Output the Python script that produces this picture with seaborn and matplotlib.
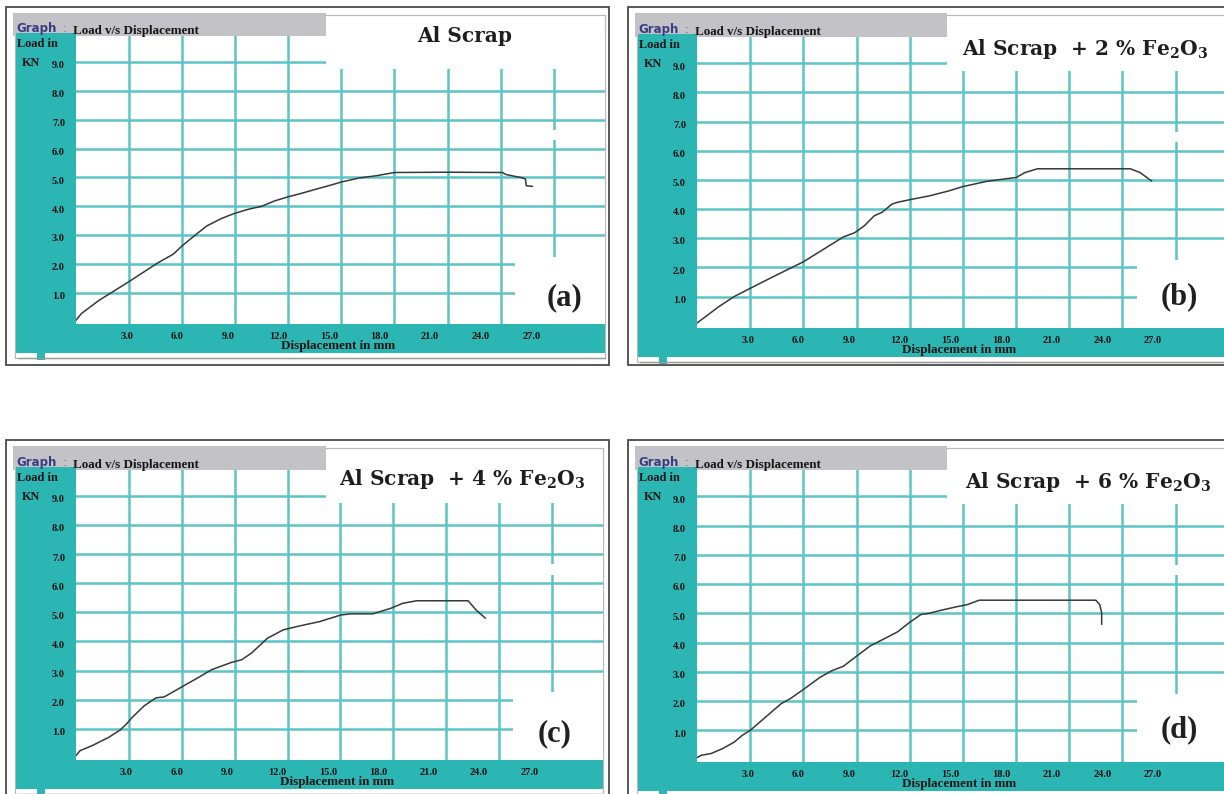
import matplotlib
matplotlib.use("Agg")
import matplotlib.pyplot as plt
from matplotlib.patches import Rectangle
from matplotlib.transforms import ScaledTranslation
import seaborn as sns

# ---------------------------------------------------------------
# Load vs displacement records (displacement in mm, load in kN)
# ---------------------------------------------------------------
disp_a = [0.0, 0.3, 1.3, 3.0, 3.8, 4.6, 5.5, 6.0, 6.8, 7.4, 8.2, 8.9, 9.7, 10.5,
          11.2, 12.0, 12.7, 13.5, 14.5, 15.0, 16.0, 17.0, 18.0, 21.0, 24.1, 24.3,
          24.7, 25.2, 25.4, 25.45, 25.8]
load_a = [0.05, 0.28, 0.74, 1.39, 1.71, 2.03, 2.34, 2.63, 3.03, 3.32, 3.57, 3.74,
          3.89, 4.00, 4.18, 4.33, 4.44, 4.58, 4.75, 4.84, 4.98, 5.06, 5.17, 5.18,
          5.17, 5.10, 5.05, 4.99, 4.95, 4.71, 4.69]

disp_b = [0.0, 1.25, 2.1, 3.0, 4.3, 6.0, 6.9, 7.8, 8.25, 8.9, 9.45, 10.0, 10.45,
          11.0, 11.3, 12.0, 13.1, 14.2, 15.0, 16.35, 17.45, 18.0, 18.5, 19.2,
          24.45, 25.0, 25.65]
load_b = [0.09, 0.66, 1.00, 1.28, 1.68, 2.19, 2.53, 2.87, 3.04, 3.19, 3.43, 3.77,
          3.89, 4.17, 4.23, 4.32, 4.45, 4.62, 4.77, 4.95, 5.04, 5.08, 5.25, 5.38,
          5.38, 5.25, 4.96]

disp_c = [0.0, 0.23, 0.9, 1.83, 2.5, 2.85, 3.18, 3.86, 4.54, 5.0, 5.9, 7.0, 7.7,
          8.83, 9.4, 9.96, 10.86, 11.76, 12.66, 13.8, 15.03, 15.6, 16.84, 17.86,
          18.53, 19.32, 22.25, 22.7, 23.23]
load_c = [0.07, 0.24, 0.41, 0.69, 0.95, 1.15, 1.38, 1.78, 2.06, 2.09, 2.40, 2.78,
          3.03, 3.28, 3.37, 3.60, 4.11, 4.40, 4.53, 4.68, 4.91, 4.95, 4.95, 5.14,
          5.31, 5.40, 5.40, 5.08, 4.80]

disp_d = [0.0, 0.24, 0.8, 1.45, 2.1, 2.55, 3.0, 3.86, 4.74, 5.3, 6.05, 6.93, 7.6,
          8.25, 8.9, 9.78, 10.88, 11.32, 11.97, 12.63, 13.07, 13.73, 14.6, 15.26,
          15.92, 22.5, 22.72, 22.83, 22.83]
load_d = [0.07, 0.15, 0.21, 0.38, 0.60, 0.83, 1.00, 1.45, 1.91, 2.10, 2.42, 2.81,
          3.04, 3.19, 3.49, 3.89, 4.23, 4.37, 4.68, 4.96, 5.00, 5.10, 5.22, 5.30,
          5.45, 5.45, 5.30, 5.02, 4.62]

panel_titles = ["Al Scrap",
                r"Al Scrap  + 2 % Fe$_\mathbf{2}$O$_\mathbf{3}$",
                r"Al Scrap  + 4 % Fe$_\mathbf{2}$O$_\mathbf{3}$",
                r"Al Scrap  + 6 % Fe$_\mathbf{2}$O$_\mathbf{3}$"]
panel_tags = ["(a)", "(b)", "(c)", "(d)"]

x_grid = [3.0, 6.0, 9.0, 12.0, 15.0, 18.0, 21.0, 24.0, 27.0]
x_tick_labels = ["3.0", "6.0", "9.0", "12.0", "15.0", "18.0", "21.0", "24.0", "27.0"]
y_grid = [1.0, 2.0, 3.0, 4.0, 5.0, 6.0, 7.0, 8.0, 9.0]
y_tick_labels = ["1.0", "2.0", "3.0", "4.0", "5.0", "6.0", "7.0", "8.0", "9.0"]

window_caption = "Load v/s Displacement"
x_caption = "Displacement in mm"
y_caption = ["Load in", "KN"]

# ---------------------------------------------------------------
# Styling
# ---------------------------------------------------------------
sns.set_theme(style="white")
plt.rcParams["mathtext.fontset"] = "dejavuserif"

W, H = 1224, 794
TEAL = "#2bb5b3"
GRID = "#5cc4c4"
BAR_GREY = "#c3c3c7"
CURVE = "#383838"
SERIF = "Liberation Serif"

# screen layout of each instrument window (pixels)
panels = [
    dict(frame=(6, 7), box=(76, 36, 605, 324), title=(465, 42, "center"), tag=(564, 298)),
    dict(frame=(628, 7), box=(697, 37, 1227, 328), title=(1208, 55, "right"), tag=(1179, 297)),
    dict(frame=(6, 440), box=(76, 470, 603, 760), title=(585, 485, "right"), tag=(555, 734)),
    dict(frame=(628, 440), box=(697, 470, 1227, 762), title=(1211, 488, "right"), tag=(1179, 730)),
]
curves = [(disp_a, load_a), (disp_b, load_b), (disp_c, load_c), (disp_d, load_d)]

XMAX, YMIN, YMAX = 29.9, -0.08, 9.9
LABEL_STEP = 0.953   # the software prints its displacement labels slightly compressed

fig = plt.figure(figsize=(W / 100, H / 100), dpi=100)
fig.patch.set_facecolor("white")

bg = fig.add_axes([0, 0, 1, 1], zorder=0)
bg.set_xlim(0, W)
bg.set_ylim(H, 0)
bg.axis("off")


def px_rect(x0, y0, x1, y1, **kw):
    bg.add_patch(Rectangle((x0, y0), x1 - x0, y1 - y0, **kw))


def ftext(x, y, s, **kw):
    fig.text(x / W, 1 - y / H, s, zorder=5, **kw)


for p, (xs, ys), title, tag in zip(panels, curves, panel_titles, panel_tags):
    fx, fy = p["frame"]
    l, t, r, b = p["box"]

    # window chrome
    px_rect(fx, fy, fx + 603, fy + 358, facecolor="white", edgecolor="#4a4a4a", lw=1.3)
    px_rect(fx + 9, fy + 8, r, b + 34, facecolor="none", edgecolor="#b8b8b8", lw=0.9)
    px_rect(fx + 7, fy + 6, l + 250, t, facecolor=BAR_GREY, edgecolor="none")
    px_rect(fx + 10, t - 3, l, b + 29, facecolor=TEAL, edgecolor="none")
    px_rect(fx + 10, b, r, b + 29, facecolor=TEAL, edgecolor="none")
    px_rect(fx + 31, b + 29, fx + 39, b + 36, facecolor=TEAL, edgecolor="none")
    bg.plot([fx + 12, r], [b + 34, b + 34], color="#9a9a9a", lw=1.0)

    # plotting area
    ax = fig.add_axes([l / W, 1 - b / H, (r - l) / W, (b - t) / H], zorder=1)
    ax.set_facecolor("white")
    sns.lineplot(x=xs, y=ys, ax=ax, sort=False, estimator=None,
                 color=CURVE, linewidth=1.1, zorder=3)
    ax.set_xlim(0, XMAX)
    ax.set_ylim(YMIN, YMAX)
    ax.set_xlabel("")
    ax.set_ylabel("")

    ax.set_xticks([LABEL_STEP * v for v in x_grid], labels=x_tick_labels)
    ax.set_xticks(x_grid, minor=True)
    ax.set_yticks(y_grid, labels=y_tick_labels)
    ax.grid(False)
    ax.grid(True, which="minor", axis="x", color=GRID, lw=1.8)
    ax.grid(True, which="major", axis="y", color=GRID, lw=1.8)
    ax.set_axisbelow(True)
    ax.tick_params(axis="x", which="both", length=0, pad=5.5, labelsize=7.5, labelcolor="#111111")
    ax.tick_params(axis="y", which="major", direction="in", length=2.5, width=1,
                   color="#444466", pad=8.0, labelsize=7.5, labelcolor="#111111")
    for lab in ax.get_xticklabels() + ax.get_yticklabels():
        lab.set_fontfamily(SERIF)
        lab.set_fontweight("bold")
    for lab in ax.get_yticklabels():
        lab.set_transform(lab.get_transform() + ScaledTranslation(0, -2 / 72, fig.dpi_scale_trans))
    for sp in ax.spines.values():
        sp.set_visible(False)

    # blank areas reserved for the caption and the panel tag
    ax.add_patch(Rectangle((250 / (r - l) * XMAX, 8.75), XMAX, 2, facecolor="white",
                           edgecolor="none", zorder=1))
    ax.add_patch(Rectangle((24.8, YMIN - 1), XMAX, 2.25 - YMIN + 1, facecolor="white",
                           edgecolor="none", zorder=1))
    ax.add_patch(Rectangle((26.55, 6.3), 0.9, 0.35, facecolor="white",
                           edgecolor="none", zorder=1))

    # window texts
    ftext(fx + 10, t - 4, "Graph", color="#3b3b84", fontsize=8.5,
          family="DejaVu Sans", fontweight="bold", va="baseline")
    ftext(fx + 57, t - 4, ":", color="#7070a0", fontsize=8.5,
          family="DejaVu Sans", va="baseline")
    ftext(fx + 67, t - 2, window_caption, color="#151515", fontsize=9.4,
          family=SERIF, fontweight="bold", va="baseline")
    ftext(fx + 11, t + 8, y_caption[0], color="#151515", fontsize=8.8,
          family=SERIF, fontweight="bold", va="center")
    ftext(fx + 16, t + 27, y_caption[1], color="#151515", fontsize=8.8,
          family=SERIF, fontweight="bold", va="center")
    ftext(l + 0.495 * (r - l), b + 22, x_caption, color="#151515", fontsize=9.4,
          family=SERIF, fontweight="bold", ha="center", va="center")

    tx, ty, tha = p["title"]
    ftext(tx, ty, title, color="#1e1e1e", fontsize=14.5, family="DejaVu Serif",
          fontweight="bold", ha=tha, va="baseline")
    gx, gy = p["tag"]
    ftext(gx, gy, tag, color="#202020", fontsize=22, family=SERIF,
          fontweight="bold", ha="center", va="center")

fig.savefig("out.png", dpi=100, facecolor="white")
